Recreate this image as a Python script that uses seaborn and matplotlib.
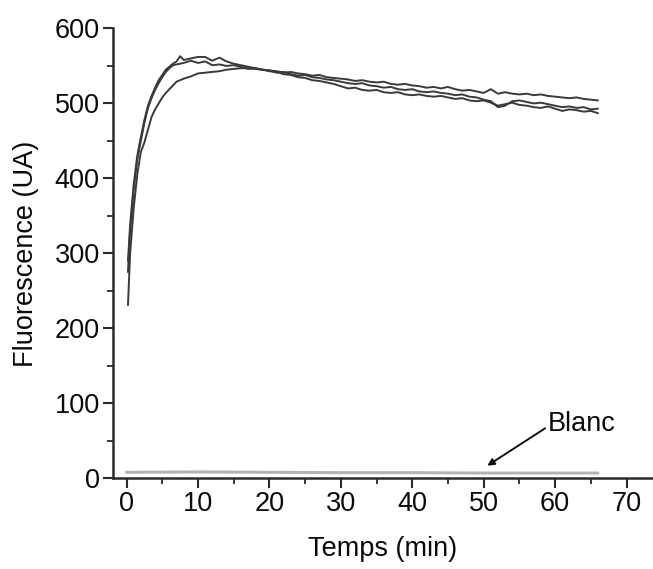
import matplotlib
matplotlib.use("Agg")
import matplotlib.pyplot as plt
from matplotlib.ticker import MultipleLocator
import seaborn as sns
import pandas as pd

# Sampling times (min)
time_min = [0.2, 0.5, 1, 1.5, 2, 2.5, 3, 3.5, 4, 4.5, 5, 5.5, 6, 6.5, 7, 7.5,
            8, 9, 10, 11, 12, 13, 14, 15, 16, 17, 18, 19, 20, 21, 22, 23, 24,
            25, 26, 27, 28, 29, 30, 31, 32, 33, 34, 35, 36, 37, 38, 39, 40,
            41, 42, 43, 44, 45, 46, 47, 48, 49, 50, 51, 52, 53, 54, 55, 56,
            57, 58, 59, 60, 61, 62, 63, 64, 65, 66]

# Fluorescence of the three replicates (UA)
essai_1 = [290, 338, 392, 430, 455, 478, 497, 510, 521, 531, 538, 545, 549, 553, 556, 563,
           558, 560, 562, 562, 557, 561, 556, 553, 551, 549, 547, 545, 543, 542, 539, 538, 535,
           534, 531, 530, 528, 526, 523, 520, 521, 518, 517, 518, 515, 514, 515, 512, 511,
           512, 510, 509, 510, 508, 506, 507, 504, 503, 504, 501, 497, 499, 501, 498, 497,
           495, 494, 496, 493, 490, 492, 491, 489, 490, 487]
essai_2 = [275, 330, 385, 425, 450, 474, 494, 507, 518, 527, 535, 542, 547, 551, 552, 553,
           554, 557, 554, 556, 551, 552, 550, 551, 549, 546, 547, 545, 544, 541, 542, 539, 537,
           538, 535, 534, 532, 531, 529, 527, 526, 527, 524, 523, 521, 522, 519, 518, 519,
           516, 515, 516, 514, 513, 511, 512, 509, 508, 505, 503, 495, 497, 503, 504, 502,
           500, 501, 499, 497, 495, 496, 494, 495, 492, 493]
essai_3 = [231, 300, 360, 405, 435, 448, 465, 482, 492, 500, 508, 514, 519, 524, 529, 531,
           533, 536, 540, 541, 542, 543, 545, 546, 547, 547, 546, 545, 544, 543, 541, 542, 540,
           539, 537, 538, 535, 534, 533, 532, 530, 531, 529, 528, 529, 526, 525, 526, 524,
           523, 521, 522, 520, 522, 519, 517, 518, 516, 514, 519, 513, 515, 513, 512, 513,
           511, 512, 510, 509, 508, 507, 508, 506, 505, 504]

# Blank measurement
blanc_time = [0, 10, 20, 30, 40, 50, 60, 66]
blanc_values = [8, 8.5, 8, 7.5, 7.5, 7, 7, 7]

sns.set_style("ticks")
plt.rcParams["font.family"] = ["Liberation Sans", "DejaVu Sans"]

df = pd.DataFrame({
    "Temps": time_min * 3,
    "Fluorescence": essai_1 + essai_2 + essai_3,
    "Essai": ["1"] * len(time_min) + ["2"] * len(time_min) + ["3"] * len(time_min),
})
df_blanc = pd.DataFrame({"Temps": blanc_time, "Fluorescence": blanc_values})

fig = plt.figure(figsize=(6.53, 5.69), dpi=100)
ax = fig.add_axes([0.173, 0.1594, 0.827, 0.7906])

sns.lineplot(data=df_blanc, x="Temps", y="Fluorescence", ax=ax,
             color="#b4b4b4", linewidth=2.2)
sns.lineplot(data=df, x="Temps", y="Fluorescence", hue="Essai", ax=ax,
             palette=["#3a3a3a"] * 3, linewidth=1.4, legend=False)

ax.set_xlim(-1.9, 73.7)
ax.set_ylim(0, 600)
ax.xaxis.set_major_locator(MultipleLocator(10))
ax.xaxis.set_minor_locator(MultipleLocator(5))
ax.yaxis.set_major_locator(MultipleLocator(100))
ax.yaxis.set_minor_locator(MultipleLocator(50))
ax.set_xticks(range(0, 71, 10))

for side in ("top", "right"):
    ax.spines[side].set_visible(False)
for side in ("left", "bottom"):
    ax.spines[side].set_linewidth(1.8)
    ax.spines[side].set_color("#2a2a2a")

ax.tick_params(which="major", direction="out", length=7, width=1.5,
               color="#2a2a2a", labelsize=19.5, labelcolor="#0a0a0a", pad=2.5)
ax.tick_params(which="minor", direction="out", length=4, width=1.3, color="#2a2a2a")

ax.set_xlabel("Temps (min)", fontsize=19.5, color="#0a0a0a", labelpad=13)
ax.set_ylabel("Fluorescence (UA)", fontsize=19.5, color="#0a0a0a", labelpad=11)

ax.text(59.0, 72.4, "Blanc", fontsize=19.5, color="#0a0a0a", va="center", ha="left")
ax.annotate("", xy=(50.5, 16.8), xytext=(58.6, 66.7),
            arrowprops=dict(arrowstyle="-|>", color="#111111", lw=1.4,
                            mutation_scale=10, shrinkA=0, shrinkB=0))

fig.savefig("out.png", dpi=100)
